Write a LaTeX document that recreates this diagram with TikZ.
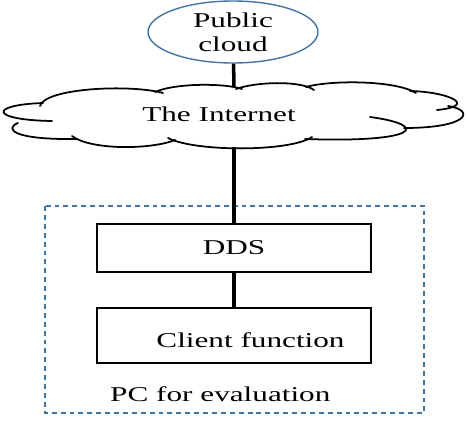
\documentclass[tikz,border=0pt]{standalone}
\usepackage{fontspec}
\setmainfont[FakeStretch=1.48]{Liberation Serif}
\usepackage{xcolor}
\definecolor{netblue}{RGB}{66, 116, 164}
\usetikzlibrary{shapes.geometric,positioning}

\tikzset{
    blockbox/.style={draw, line width=1.6pt, rectangle, minimum width=8.22cm, inner sep=0pt},
    link/.style={line width=3pt},
    cloudline/.style={line width=1.5pt, line cap=round},
}

\begin{document}
\begin{tikzpicture}[x=0.03cm, y=-0.03cm, font=\fontsize{18}{20.4}\selectfont]
    \useasboundingbox (0, 0) rectangle (467, 422);

    % Cloud service on top
    \node[draw=netblue, line width=1.2pt, ellipse, minimum width=5.1cm, minimum height=1.86cm,
          inner sep=0pt, align=center] (pub) at (233, 32) {Public\\cloud};

    % The Internet (cloud drawn lobe by lobe)
    \draw[cloudline] (52, 121) .. controls (-10, 120) and (-12, 105) .. (43, 103);
    \draw[cloudline] (40, 106) .. controls (45, 88) and (130, 84) .. (163, 93);
    \draw[cloudline] (155, 92) .. controls (175, 83) and (225, 83) .. (242, 89);
    \draw[cloudline] (236, 89) .. controls (255, 82) and (300, 80) .. (314, 90);
    \draw[cloudline] (306, 87) .. controls (330, 80) and (395, 80) .. (416, 93);
    \draw[cloudline] (410, 91) .. controls (450, 92) and (478, 106) .. (437, 110);
    \draw[cloudline] (448, 106) .. controls (475, 110) and (470, 128) .. (404, 128);
    \draw[cloudline] (370, 117) .. controls (430, 125) and (420, 143) .. (305, 139);
    \draw[cloudline] (312, 137) .. controls (290, 152) and (195, 152) .. (168, 138);
    \draw[cloudline] (175, 140) .. controls (150, 150) and (90, 150) .. (72, 136);
    \draw[cloudline] (18, 123) .. controls (5, 128) and (10, 140) .. (77, 139);
    \coordinate (inettop) at (234, 87);
    \coordinate (inetbot) at (234, 147);
    \node (inet) at (219, 114) {The Internet};

    % PC for evaluation
    \draw[netblue, line width=1.2pt, dash pattern=on 4.2pt off 3.4pt] (45, 206) rectangle (424, 413);
    \node[blockbox, minimum height=1.42cm] (dds) at (234, 248) {DDS};
    \node[blockbox, minimum height=1.67cm, text height=20pt, text depth=0pt] (client) at (234, 335.5)
        {\hspace*{0.99cm}Client function};
    \node[anchor=base west, inner sep=0pt] (pc) at (110, 401.5) {PC for evaluation};

    % Connections
    \draw[link] (pub) -- (inettop);
    \draw[link] (inetbot) -- (dds);
    \draw[link] (dds) -- (client);
\end{tikzpicture}
\end{document}
